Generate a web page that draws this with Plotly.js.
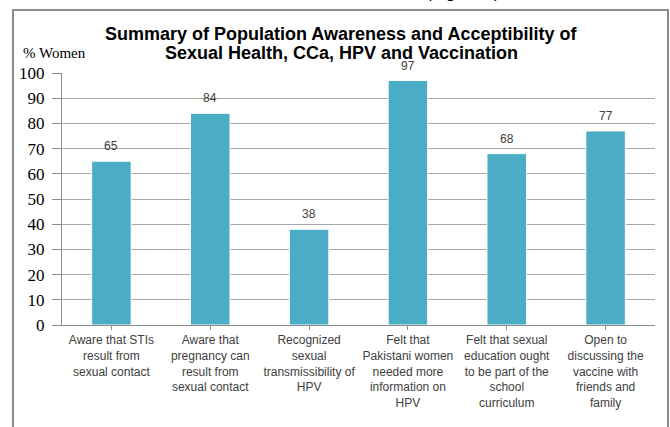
<!DOCTYPE html>
<html>
<head>
<meta charset="utf-8">
<script src="https://cdn.plot.ly/plotly-3.0.1.min.js"></script>
<style>html,body{margin:0;padding:0;background:#fff;}#chart{width:670px;height:427px;}</style>
</head>
<body>
<div id="chart"></div>
<script>
const categories = [
  "Aware that STIs<br>result from<br>sexual contact",
  "Aware that<br>pregnancy can<br>result from<br>sexual contact",
  "Recognized<br>sexual<br>transmissibility of<br>HPV",
  "Felt that<br>Pakistani women<br>needed more<br>information on<br>HPV",
  "Felt that sexual<br>education ought<br>to be part of the<br>school<br>curriculum",
  "Open to<br>discussing the<br>vaccine with<br>friends and<br>family"
];
const values = [65, 84, 38, 97, 68, 77];
const yTicks = [0, 10, 20, 30, 40, 50, 60, 70, 80, 90, 100];
const titleLines = [
  "Summary of Population Awareness and Acceptibility of",
  "Sexual Health, CCa, HPV and Vaccination"
];

const L = 62, R = 15, T = 73, B = 102, W = 670, H = 427;
const pw = W - L - R, ph = H - T - B;
const px2x = p => (p - L) / pw;
const py2y = p => (H - B - p) / ph;

const xIdx = categories.map((c, i) => i);

const trace = {
  type: 'bar',
  x: xIdx,
  y: values,
  width: 0.4,
  marker: {color: '#4bacc6', line: {color: '#ffffff', width: 1}},
  hoverinfo: 'none'
};

const valueLabels = values.map((v, i) => ({
  text: String(v), x: xIdx[i], y: v, xref: 'x', yref: 'y',
  xanchor: 'center', yanchor: 'bottom', yshift: 6, showarrow: false,
  font: {family: 'Arial, Liberation Sans, sans-serif', size: 12, color: '#404040'}
}));

const titleAnns = titleLines.map((t, i) => ({
  text: '<b>' + t + '</b>', xref: 'paper', yref: 'paper',
  x: px2x(341), y: py2y(34 + 19 * i), xanchor: 'center', yanchor: 'middle',
  showarrow: false,
  font: {family: 'Arial, Liberation Sans, sans-serif', size: 18, color: '#000000'}
}));

const layout = {
  width: W, height: H,
  margin: {l: L, r: R, t: T, b: B},
  paper_bgcolor: '#ffffff',
  plot_bgcolor: '#ffffff',
  showlegend: false,
  xaxis: {
    tickmode: 'array',
    tickvals: xIdx,
    ticktext: categories,
    range: [-0.5, categories.length - 0.5],
    tickson: 'boundaries',
    ticks: 'outside', ticklen: 4, tickcolor: '#8c8c8c',
    showline: true, linecolor: '#8c8c8c', linewidth: 1,
    showgrid: false, zeroline: false,
    tickangle: 0,
    tickfont: {family: 'Arial, Liberation Sans, sans-serif', size: 12, color: '#404040'}
  },
  yaxis: {
    range: [0, 100],
    tickmode: 'array', tickvals: yTicks, ticktext: yTicks.map(String),
    ticks: 'outside', ticklen: 9, tickcolor: '#8c8c8c',
    ticklabelstandoff: 4,
    showline: true, linecolor: '#8c8c8c', linewidth: 1,
    showgrid: true, gridcolor: '#a6a6a6', gridwidth: 1,
    zeroline: false,
    tickfont: {family: 'Times New Roman, Liberation Serif, serif', size: 17, color: '#000000'}
  },
  annotations: [
    {text: '% Women', xref: 'paper', yref: 'paper', x: px2x(21), y: py2y(53),
     xanchor: 'left', yanchor: 'middle', showarrow: false,
     font: {family: 'Times New Roman, Liberation Serif, serif', size: 15, color: '#000000'}},
    {text: '(Figure 1)', xref: 'paper', yref: 'paper', x: px2x(424), y: py2y(-8),
     xanchor: 'left', yanchor: 'middle', showarrow: false,
     font: {family: 'Arial, Liberation Sans, sans-serif', size: 17, color: '#000000'}}
  ].concat(titleAnns, valueLabels),
  shapes: [
    {type: 'rect', xref: 'paper', yref: 'paper',
     x0: px2x(13), x1: px2x(668), y0: py2y(440), y1: py2y(10),
     line: {color: '#8c8c8c', width: 2}, fillcolor: 'rgba(0,0,0,0)', layer: 'above'}
  ]
};

Plotly.newPlot('chart', [trace], layout, {displayModeBar: false, staticPlot: true});
</script>
</body>
</html>
